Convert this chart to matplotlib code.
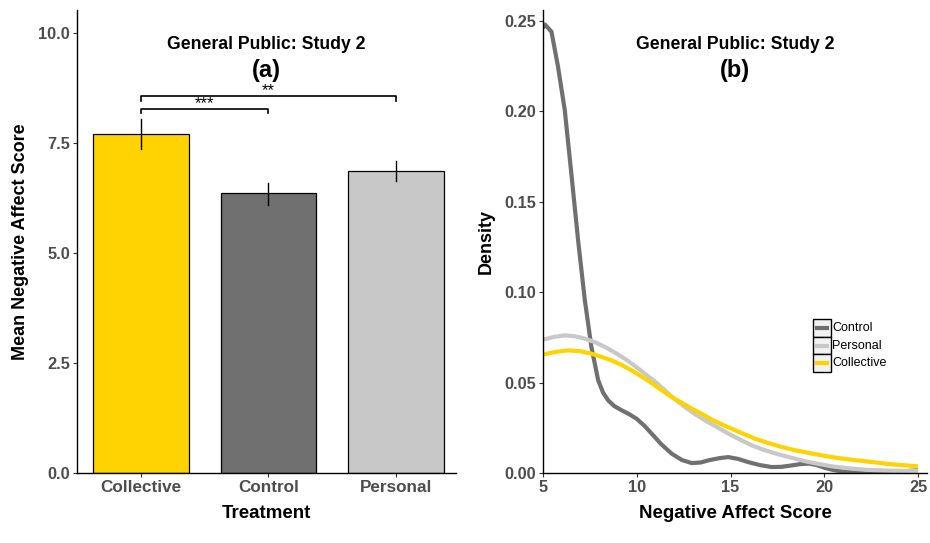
import matplotlib.pyplot as plt
from matplotlib.patches import Rectangle

plt.rcParams['font.family'] = ['Liberation Sans', 'DejaVu Sans']

# panel (a): bar means and error bars
treatments = ["Collective", "Control", "Personal"]
means = [7.70, 6.36, 6.86]
err_low = [7.36, 6.10, 6.64]
err_high = [8.05, 6.59, 7.09]
bar_colors = ["#FFD300", "#707070", "#C8C8C8"]

# significance brackets: (from, to, height, label)
sig_pairs = [(0, 1, 8.27, "***"), (0, 2, 8.56, "**")]

# panel (b): density curves
ctrl_x = [5.0, 5.1, 5.45, 5.8, 6.16, 6.51, 6.87, 7.23, 7.58, 7.94, 8.2, 8.47, 8.8, 9.19,
          9.6, 9.99, 10.4, 10.79, 11.3, 11.86, 12.4, 12.93, 13.4, 13.82, 14.4, 14.88,
          15.4, 15.95, 16.6, 17.2, 17.7, 18.27, 18.7, 19.16, 19.6, 20.05, 20.5, 20.94,
          21.5, 22.19, 23.0, 24.0, 25.0]
ctrl_y = [0.246, 0.248, 0.244, 0.2246, 0.2006, 0.1656, 0.1287, 0.0955, 0.0697, 0.0513,
          0.0445, 0.0402, 0.0370, 0.0347, 0.0325, 0.0300, 0.0262, 0.0218, 0.0160, 0.0107,
          0.0072, 0.0055, 0.0058, 0.0070, 0.0082, 0.0088, 0.0078, 0.0060, 0.0043, 0.0033,
          0.0034, 0.0042, 0.0049, 0.0052, 0.0044, 0.0028, 0.0016, 0.0009, 0.0004, 0.0002,
          0.0003, 0.0008, 0.0015]
pers_x = [5.0, 5.6, 6.16, 6.7, 7.23, 7.8, 8.3, 8.8, 9.36, 9.9, 10.43, 11.0, 11.5, 12.0,
          12.57, 13.1, 13.64, 14.3, 14.88, 15.5, 16.13, 16.8, 17.56, 18.3, 18.98, 19.7,
          20.4, 21.3, 22.19, 23.5, 25.0]
pers_y = [0.0737, 0.0753, 0.0761, 0.0756, 0.0743, 0.0722, 0.0697, 0.0668, 0.0632, 0.0592,
          0.0549, 0.0503, 0.0457, 0.0411, 0.0365, 0.0326, 0.0291, 0.0253, 0.0218, 0.0185,
          0.0153, 0.0127, 0.0103, 0.0083, 0.0065, 0.0050, 0.0037, 0.0026, 0.0018, 0.0013,
          0.0011]
coll_x = [5.0, 5.7, 6.34, 7.0, 7.58, 8.1, 8.65, 9.2, 9.72, 10.25, 10.79, 11.3, 11.86,
          12.4, 12.93, 13.5, 14.0, 14.5, 15.06, 15.7, 16.31, 17.0, 17.73, 18.4, 19.16,
          19.9, 20.58, 21.4, 22.19, 23.6, 25.0]
coll_y = [0.0655, 0.0670, 0.0678, 0.0673, 0.0660, 0.0643, 0.0623, 0.0597, 0.0568, 0.0534,
          0.0498, 0.0460, 0.0420, 0.0388, 0.0356, 0.0325, 0.0295, 0.0270, 0.0245, 0.0216,
          0.0190, 0.0166, 0.0144, 0.0127, 0.0111, 0.0097, 0.0085, 0.0074, 0.0065, 0.0048,
          0.0037]
dens_names = ["Control", "Personal", "Collective"]
dens_colors = ["#707070", "#C8C8C8", "#FFD300"]

fig = plt.figure(figsize=(9.3, 5.43), dpi=100)
ax1 = fig.add_axes([0.0828, 0.1289, 0.4075, 0.8527])
ax2 = fig.add_axes([0.5839, 0.1289, 0.4129, 0.8527])

tick_col = "#4D4D4D"
for ax in (ax1, ax2):
    for s in ("top", "right"):
        ax.spines[s].set_visible(False)
    for s in ("left", "bottom"):
        ax.spines[s].set_linewidth(1.0)
        ax.spines[s].set_color("black")
    ax.tick_params(length=3, width=0.8, color="#333333", labelcolor=tick_col,
                   labelsize=11.8, pad=2)

# ---- (a) bar chart
xs = [1, 2, 3]
ax1.bar(xs, means, width=0.75, color=bar_colors, edgecolor="black", linewidth=0.9,
        zorder=2)
for x, lo, hi in zip(xs, err_low, err_high):
    ax1.plot([x, x], [lo, hi], color="black", lw=1.0, zorder=3)
for i, j, h, lab in sig_pairs:
    x0, x1 = xs[i], xs[j]
    ax1.plot([x0, x0, x1, x1], [h - 0.1, h, h, h - 0.1], color="black", lw=1.2)
    ax1.text((x0 + x1) / 2, h - 0.05, lab, ha="center", va="bottom", fontsize=12)
ax1.set_xlim(0.5, 3.47)
ax1.set_ylim(0, 10.52)
ax1.set_xticks(xs)
ax1.set_xticklabels(treatments, fontweight="bold", fontsize=12.3)
ax1.set_yticks([0, 2.5, 5, 7.5, 10])
ax1.set_yticklabels(["0.0", "2.5", "5.0", "7.5", "10.0"], fontweight="bold")
ax1.set_xlabel("Treatment", fontweight="bold", fontsize=13.5, labelpad=7)
ax1.set_ylabel("Mean Negative Affect Score", fontweight="bold", fontsize=13,
               labelpad=7)
ax1.text(0.5, 0.925, "General Public: Study 2", transform=ax1.transAxes, ha="center",
         va="center", fontsize=12.7, fontweight="bold")
ax1.text(0.5, 0.87, "(a)", transform=ax1.transAxes, ha="center", va="center",
         fontsize=17, fontweight="bold")

# ---- (b) density curves
for xd, yd, name, col in zip([ctrl_x, pers_x, coll_x], [ctrl_y, pers_y, coll_y],
                             dens_names, dens_colors):
    ax2.plot(xd, yd, color=col, lw=3, solid_capstyle="butt", solid_joinstyle="round",
             label=name)
ax2.set_xlim(5, 25.48)
ax2.set_ylim(0, 0.256)
ax2.set_xticks([5, 10, 15, 20, 25])
ax2.set_xticklabels(["5", "10", "15", "20", "25"], fontweight="bold")
ax2.set_yticks([0, 0.05, 0.10, 0.15, 0.20, 0.25])
ax2.set_yticklabels(["0.00", "0.05", "0.10", "0.15", "0.20", "0.25"], fontweight="bold")
ax2.set_xlabel("Negative Affect Score", fontweight="bold", fontsize=13.5, labelpad=7)
ax2.set_ylabel("Density", fontweight="bold", fontsize=13, labelpad=7)
ax2.text(0.5, 0.925, "General Public: Study 2", transform=ax2.transAxes, ha="center",
         va="center", fontsize=12.7, fontweight="bold")
ax2.text(0.5, 0.87, "(b)", transform=ax2.transAxes, ha="center", va="center",
         fontsize=17, fontweight="bold")

# legend drawn as ggplot-style keys
kx0, kx1 = 0.703, 0.750
ktop, kh = 0.3326, 0.0382
for k, (name, col) in enumerate(zip(dens_names, dens_colors)):
    y0 = ktop - (k + 1) * kh
    ax2.add_patch(Rectangle((kx0, y0), kx1 - kx0, kh, transform=ax2.transAxes,
                            facecolor="#F2F2F2", edgecolor="black", lw=1.0,
                            clip_on=False))
    ax2.plot([kx0 + 0.006, kx1 - 0.006], [y0 + kh / 2] * 2, color=col, lw=3,
             transform=ax2.transAxes, clip_on=False, solid_capstyle="butt")
    ax2.text(kx1 + 0.003, y0 + kh / 2, name, transform=ax2.transAxes, ha="left",
             va="center", fontsize=9)

fig.savefig("out.png", dpi=100)
